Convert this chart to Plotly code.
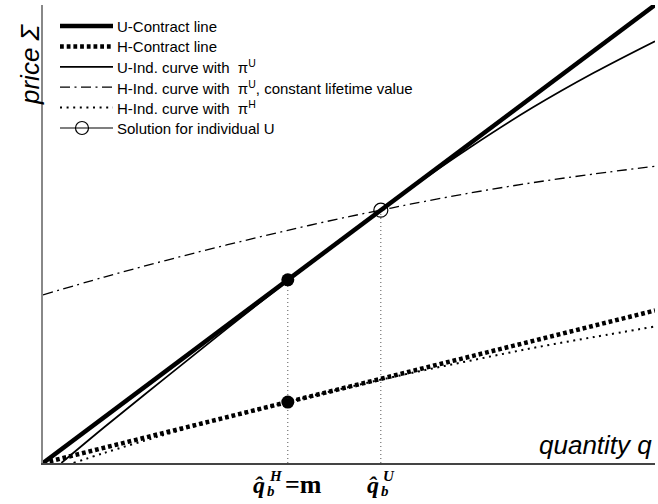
import plotly.graph_objects as go

# ---- chart values (normalised quantity / price units) ----
q_contract = [0.0, 1.0]
price_u_contract = [0.0, 1.0]
price_h_contract = [0.0, 0.333]

q_u_ind = [0.03, 0.1, 0.2, 0.3, 0.4, 0.5, 0.552, 0.6, 0.7, 0.8, 0.9, 1.0]
price_u_ind = [0.0, 0.078, 0.186, 0.293, 0.398, 0.5, 0.552, 0.599, 0.691, 0.776, 0.852, 0.921]

q_h_ind_const = [0.0, 0.1, 0.2, 0.3, 0.4, 0.5, 0.552, 0.6, 0.7, 0.8, 0.9, 1.0]
price_h_ind_const = [0.367, 0.406, 0.442, 0.476, 0.508, 0.538, 0.552, 0.565, 0.590, 0.612, 0.631, 0.648]

q_h_ind_h = [0.05, 0.1, 0.2, 0.3, 0.4, 0.5, 0.6, 0.7, 0.8, 0.9, 1.0]
price_h_ind_h = [0.0, 0.022, 0.062, 0.099, 0.133, 0.166, 0.196, 0.224, 0.251, 0.275, 0.298]

q_m = 0.4            # q_b^H = m
q_sol_u = 0.552      # q_b^U
price_u_at_m = 0.4
price_h_at_m = 0.133
price_sol_u = 0.552

tick_q = [q_m, q_sol_u]
tick_sup = ["H", "U"]
tick_suffix = ["=m", ""]

legend_labels = [
    "U-Contract line",
    "H-Contract line",
    "U-Ind. curve with \u00a0\u03c0<sup>U</sup>",
    "H-Ind. curve with \u00a0\u03c0<sup>U</sup>, constant lifetime value",
    "H-Ind. curve with \u00a0\u03c0<sup>H</sup>",
    "Solution for individual U",
]

# ---- layout geometry (pixels) ----
W, H = 658, 504
L, R, T, B = 43, 655, 5, 463


def px(x):
    return (x - L) / (R - L)


def py(y):
    return (B - y) / (B - T)


BLACK = "black"
styles = {
    "u_contract": dict(color=BLACK, width=4.5),
    "h_contract": dict(color=BLACK, width=4.5, dash="3.8px,2.9px"),
    "u_ind": dict(color=BLACK, width=1.7),
    "h_ind_const": dict(color=BLACK, width=1.3, dash="10px,4.5px,2px,4.5px"),
    "h_ind_h": dict(color=BLACK, width=2, dash="2px,4.6px"),
}

fig = go.Figure()

# dotted guides from the axis up to the solution points
for q, p in [(q_m, price_u_at_m), (q_sol_u, price_sol_u)]:
    fig.add_trace(go.Scatter(x=[q, q], y=[0, p], mode="lines",
                             line=dict(color="#555555", width=1, dash="1px,3px"),
                             hoverinfo="skip"))

fig.add_trace(go.Scatter(x=q_h_ind_h, y=price_h_ind_h, mode="lines",
                         line=dict(shape="spline", **styles["h_ind_h"])))
fig.add_trace(go.Scatter(x=q_contract, y=price_h_contract, mode="lines",
                         line=styles["h_contract"]))
fig.add_trace(go.Scatter(x=q_h_ind_const, y=price_h_ind_const, mode="lines",
                         line=dict(shape="spline", **styles["h_ind_const"])))
fig.add_trace(go.Scatter(x=q_u_ind, y=price_u_ind, mode="lines",
                         line=dict(shape="spline", **styles["u_ind"])))
fig.add_trace(go.Scatter(x=q_contract, y=price_u_contract, mode="lines",
                         line=styles["u_contract"]))

# contract points at q = m
fig.add_trace(go.Scatter(x=[q_m, q_m], y=[price_u_at_m, price_h_at_m], mode="markers",
                         marker=dict(symbol="circle", size=13, color=BLACK),
                         cliponaxis=False))
# solution for individual U
fig.add_trace(go.Scatter(x=[q_sol_u], y=[price_sol_u], mode="markers",
                         marker=dict(symbol="circle-open", size=14, color=BLACK,
                                     line=dict(width=1.2, color=BLACK)),
                         cliponaxis=False))

shapes = []
annotations = []

# ---- legend ----
leg_x0, leg_x1, leg_text_x = 60, 113, 115
leg_y0, leg_dy = 26, 20.4
leg_keys = ["u_contract", "h_contract", "u_ind", "h_ind_const", "h_ind_h", None]
sans = "Liberation Sans, Arial"
for i, (key, label) in enumerate(zip(leg_keys, legend_labels)):
    y = leg_y0 + i * leg_dy
    st = styles[key] if key else dict(color=BLACK, width=1.2)
    shapes.append(dict(type="line", xref="paper", yref="paper",
                       x0=px(leg_x0), x1=px(leg_x1), y0=py(y), y1=py(y),
                       line=st))
    if key is None:
        cx = 82
        shapes.append(dict(type="circle", xref="paper", yref="paper",
                           x0=px(cx - 6.5), x1=px(cx + 6.5),
                           y0=py(y + 6.5), y1=py(y - 6.5),
                           line=dict(color=BLACK, width=1.2)))
    annotations.append(dict(xref="paper", yref="paper", x=px(leg_text_x), y=py(y),
                            xanchor="left", yanchor="middle", showarrow=False,
                            text=label,
                            font=dict(family=sans, size=15, color=BLACK)))

# ---- axis titles ----
annotations.append(dict(xref="paper", yref="paper", x=px(30), y=py(64),
                        xanchor="center", yanchor="middle", showarrow=False,
                        textangle=-90, text="price \u03a3",
                        font=dict(family=sans, size=26, color=BLACK, style="italic")))
annotations.append(dict(xref="paper", yref="paper", x=px(654), y=py(445),
                        xanchor="right", yanchor="middle", showarrow=False,
                        text="quantity q",
                        font=dict(family=sans, size=26, color=BLACK, style="italic")))

# ---- tick labels  q̂_b^H = m  and  q̂_b^U ----
serif = "Liberation Serif, Times New Roman, serif"
for q, sup, suffix in zip(tick_q, tick_sup, tick_suffix):
    tx = L + q * (R - L)
    suffix_w = 42 if suffix else 0
    total = 30 + suffix_w
    qx = tx - total / 2 + 7.5
    annotations.append(dict(xref="paper", yref="paper", x=px(qx), y=py(485),
                            xanchor="center", yanchor="middle", showarrow=False,
                            text="q\u0302",
                            font=dict(family=serif, size=24, color=BLACK,
                                      weight="bold", style="italic")))
    annotations.append(dict(xref="paper", yref="paper", x=px(qx + 8), y=py(476),
                            xanchor="left", yanchor="middle", showarrow=False,
                            text=sup,
                            font=dict(family=serif, size=15, color=BLACK,
                                      weight="bold", style="italic")))
    annotations.append(dict(xref="paper", yref="paper", x=px(qx + 6), y=py(491),
                            xanchor="left", yanchor="middle", showarrow=False,
                            text="b",
                            font=dict(family=serif, size=15, color=BLACK,
                                      weight="bold", style="italic")))
    if suffix:
        annotations.append(dict(xref="paper", yref="paper", x=px(qx + 24), y=py(484),
                                xanchor="left", yanchor="middle", showarrow=False,
                                text=suffix,
                                font=dict(family=serif, size=26, color=BLACK,
                                          weight="bold")))

fig.update_layout(
    width=W, height=H,
    margin=dict(l=L, r=W - R, t=T, b=H - B, pad=0),
    paper_bgcolor="white", plot_bgcolor="white",
    showlegend=False,
    shapes=shapes,
    annotations=annotations,
    xaxis=dict(range=[0, 1], showgrid=False, zeroline=False, showticklabels=False,
               ticks="", showline=True, linecolor="#444444", linewidth=2, fixedrange=True),
    yaxis=dict(range=[0, 1], showgrid=False, zeroline=False, showticklabels=False,
               ticks="", showline=True, linecolor="#888888", linewidth=2, fixedrange=True),
)

fig.write_html("out.html")
